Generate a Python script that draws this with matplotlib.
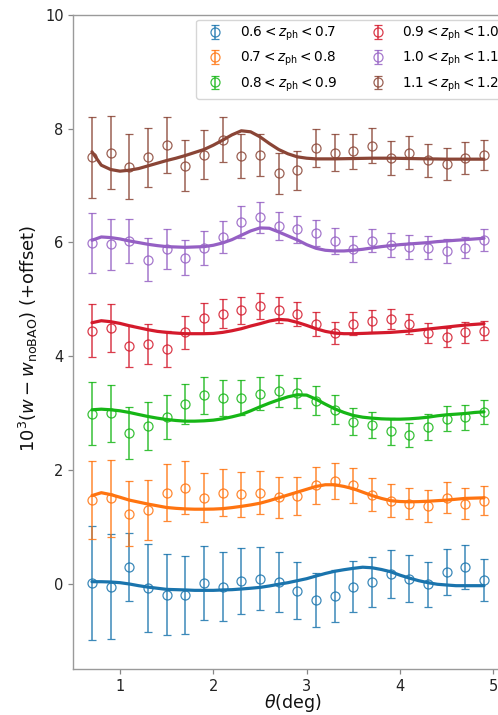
import matplotlib
matplotlib.use("Agg")
import matplotlib.pyplot as plt

# ---------------- data ----------------
theta = [0.7, 0.9, 1.1, 1.3, 1.5, 1.7, 1.9, 2.1, 2.3, 2.5, 2.7,
         2.9, 3.1, 3.3, 3.5, 3.7, 3.9, 4.1, 4.3, 4.5, 4.7, 4.9]

theta_model = [0.7, 0.8, 0.9, 1.0, 1.1, 1.2, 1.3, 1.4, 1.5, 1.6, 1.7, 1.8, 1.9,
               2.0, 2.1, 2.2, 2.3, 2.4, 2.5, 2.6, 2.7, 2.8, 2.9, 3.0, 3.1, 3.2,
               3.3, 3.4, 3.5, 3.6, 3.7, 3.8, 3.9, 4.0, 4.1, 4.2, 4.3, 4.4, 4.5,
               4.6, 4.7, 4.8, 4.9]

labels = [r'$0.6 < z_{\rm ph} < 0.7$', r'$0.7 < z_{\rm ph} < 0.8$',
          r'$0.8 < z_{\rm ph} < 0.9$', r'$0.9 < z_{\rm ph} < 1.0$',
          r'$1.0 < z_{\rm ph} < 1.1$', r'$1.1 < z_{\rm ph} < 1.2$']

# bin 0.6-0.7 (offset 0)
w_b0 = [0.01, -0.05, 0.30, -0.08, -0.19, -0.20, 0.02, -0.05, 0.05, 0.09, 0.03,
        -0.12, -0.29, -0.22, -0.05, 0.03, 0.17, 0.09, -0.01, 0.21, 0.29, 0.07]
e_b0 = [1.00, 0.93, 0.60, 0.77, 0.72, 0.69, 0.65, 0.61, 0.58, 0.55, 0.52,
        0.50, 0.48, 0.46, 0.45, 0.44, 0.43, 0.42, 0.40, 0.40, 0.39, 0.37]
m_b0 = [0.035, 0.035, 0.030, 0.018, -0.005, -0.035, -0.060, -0.080, -0.100, -0.105,
        -0.110, -0.117, -0.117, -0.117, -0.110, -0.105, -0.093, -0.080, -0.065, -0.040,
        -0.010, 0.018, 0.053, 0.088, 0.135, 0.180, 0.218, 0.246, 0.270, 0.290, 0.280,
        0.250, 0.210, 0.150, 0.099, 0.053, 0.018, -0.010, -0.023, -0.035, -0.035,
        -0.035, -0.035]

# bin 0.7-0.8 (offset 1.5)
w_b1 = [1.47, 1.50, 1.23, 1.29, 1.60, 1.69, 1.51, 1.60, 1.57, 1.60, 1.52,
        1.54, 1.73, 1.81, 1.73, 1.56, 1.46, 1.41, 1.37, 1.51, 1.41, 1.46]
e_b1 = [0.68, 0.68, 0.57, 0.53, 0.50, 0.46, 0.43, 0.41, 0.39, 0.38, 0.36,
        0.34, 0.33, 0.32, 0.31, 0.29, 0.29, 0.28, 0.28, 0.27, 0.27, 0.25]
m_b1 = [1.549, 1.600, 1.567, 1.520, 1.470, 1.435, 1.400, 1.370, 1.340, 1.325,
        1.315, 1.310, 1.310, 1.312, 1.320, 1.338, 1.360, 1.385, 1.415, 1.460,
        1.510, 1.560, 1.610, 1.660, 1.710, 1.740, 1.740, 1.710, 1.670, 1.610,
        1.550, 1.500, 1.460, 1.445, 1.440, 1.443, 1.450, 1.460, 1.470, 1.485,
        1.500, 1.505, 1.510]

# bin 0.8-0.9 (offset 3)
w_b2 = [2.99, 3.00, 2.65, 2.77, 2.93, 3.16, 3.31, 3.27, 3.27, 3.34, 3.39,
        3.35, 3.22, 3.06, 2.85, 2.79, 2.68, 2.62, 2.75, 2.90, 2.93, 3.02]
e_b2 = [0.55, 0.50, 0.45, 0.42, 0.38, 0.36, 0.33, 0.32, 0.31, 0.29, 0.28,
        0.26, 0.25, 0.25, 0.24, 0.23, 0.24, 0.21, 0.23, 0.22, 0.22, 0.21]
m_b2 = [3.058, 3.069, 3.058, 3.040, 3.011, 2.975, 2.940, 2.911, 2.887, 2.870,
        2.858, 2.858, 2.864, 2.876, 2.899, 2.934, 2.975, 3.040, 3.110, 3.175,
        3.234, 3.286, 3.322, 3.316, 3.245, 3.157, 3.075, 3.011, 2.958, 2.928,
        2.911, 2.899, 2.893, 2.893, 2.899, 2.911, 2.928, 2.952, 2.970, 2.981,
        2.993, 3.011, 3.022]

# bin 0.9-1.0 (offset 4.5)
w_b3 = [4.45, 4.50, 4.18, 4.21, 4.13, 4.42, 4.67, 4.75, 4.81, 4.88, 4.82,
        4.74, 4.57, 4.41, 4.57, 4.62, 4.65, 4.57, 4.41, 4.33, 4.42, 4.45]
e_b3 = [0.47, 0.42, 0.37, 0.35, 0.32, 0.29, 0.26, 0.26, 0.24, 0.23, 0.23,
        0.21, 0.21, 0.20, 0.20, 0.19, 0.18, 0.18, 0.18, 0.17, 0.18, 0.17]
m_b3 = [4.589, 4.624, 4.607, 4.577, 4.536, 4.501, 4.466, 4.437, 4.419, 4.407,
        4.396, 4.396, 4.396, 4.401, 4.419, 4.448, 4.484, 4.531, 4.572, 4.618,
        4.648, 4.636, 4.595, 4.542, 4.484, 4.437, 4.407, 4.396, 4.396, 4.401,
        4.407, 4.413, 4.419, 4.431, 4.442, 4.460, 4.478, 4.495, 4.513, 4.531,
        4.548, 4.560, 4.572]

# bin 1.0-1.1 (offset 6)
w_b4 = [5.99, 5.97, 6.03, 5.70, 5.89, 5.73, 5.91, 6.09, 6.36, 6.44, 6.29,
        6.23, 6.17, 6.03, 5.88, 6.03, 5.96, 5.92, 5.91, 5.85, 5.91, 6.04]
e_b4 = [0.52, 0.45, 0.39, 0.37, 0.35, 0.31, 0.30, 0.28, 0.28, 0.27, 0.25,
        0.24, 0.23, 0.23, 0.23, 0.20, 0.21, 0.21, 0.20, 0.21, 0.19, 0.19]
m_b4 = [6.039, 6.097, 6.086, 6.062, 6.027, 5.998, 5.968, 5.945, 5.927, 5.921,
        5.915, 5.921, 5.927, 5.951, 5.992, 6.050, 6.127, 6.203, 6.256, 6.250,
        6.185, 6.115, 6.045, 5.962, 5.898, 5.863, 5.851, 5.851, 5.863, 5.880,
        5.904, 5.927, 5.945, 5.962, 5.974, 5.986, 5.998, 6.015, 6.027, 6.039,
        6.050, 6.062, 6.074]

# bin 1.1-1.2 (offset 7.5)
w_b5 = [7.50, 7.58, 7.33, 7.50, 7.71, 7.35, 7.54, 7.81, 7.52, 7.54, 7.22,
        7.27, 7.66, 7.58, 7.60, 7.70, 7.49, 7.58, 7.45, 7.38, 7.48, 7.54]
e_b5 = [0.71, 0.64, 0.57, 0.52, 0.49, 0.45, 0.43, 0.40, 0.39, 0.37, 0.36,
        0.34, 0.33, 0.32, 0.31, 0.31, 0.30, 0.29, 0.29, 0.28, 0.28, 0.27]
m_b5 = [7.594, 7.359, 7.283, 7.254, 7.271, 7.300, 7.347, 7.394, 7.441, 7.482,
        7.529, 7.582, 7.635, 7.711, 7.799, 7.893, 7.964, 7.946, 7.858, 7.741,
        7.635, 7.559, 7.506, 7.482, 7.470, 7.470, 7.470, 7.473, 7.476, 7.479,
        7.482, 7.482, 7.482, 7.479, 7.476, 7.473, 7.470, 7.468, 7.465, 7.465,
        7.465, 7.465, 7.465]

data_w = [w_b0, w_b1, w_b2, w_b3, w_b4, w_b5]
data_e = [e_b0, e_b1, e_b2, e_b3, e_b4, e_b5]
data_m = [m_b0, m_b1, m_b2, m_b3, m_b4, m_b5]

colors = ['#1a74ad', '#ff7410', '#16b616', '#d41a2c', '#9560c4', '#8a4536']

x_ticks = [1, 2, 3, 4, 5]
y_ticks = [0, 2, 4, 6, 8, 10]

# ---------------- figure ----------------
W, H = 498, 715
fig = plt.figure(figsize=(W / 100, H / 100), dpi=100)
ax_l, ax_r, ax_t, ax_b = 73.3, 512.0, 15.0, 669.0
ax = fig.add_axes([ax_l / W, (H - ax_b) / H, (ax_r - ax_l) / W, (ax_b - ax_t) / H])

for k in range(6):
    c = colors[k]
    ax.plot(theta_model, data_m[k], color=c, lw=2.3, zorder=3,
            solid_capstyle='round')
    ax.errorbar(theta, data_w[k], yerr=data_e[k], fmt='o', color=c,
                mfc='none', mec=c, ms=6.5, mew=0.9, elinewidth=1.1,
                capsize=2.8, capthick=1.1, alpha=0.85, label=labels[k], zorder=2)

ax.set_xlim(0.5, 5.2)
ax.set_ylim(-1.5, 10)
ax.set_xticks(x_ticks)
ax.set_yticks(y_ticks)
ax.tick_params(labelsize=10.5, color='#888888', length=3.5, width=0.9,
               labelcolor='#222222')
for s in ax.spines.values():
    s.set_color('#9a9a9a')
    s.set_linewidth(1.0)

ax.set_xlabel(r'$\theta$(deg)', fontsize=12.5, color='#111111', labelpad=-1)
ax.set_ylabel(r'$10^3(w - w_{\rm noBAO})$ (+offset)', fontsize=13,
              color='#111111')
ax.yaxis.set_label_coords(-0.077, 0.505)

leg = ax.legend(loc='upper left', bbox_to_anchor=((196 - ax_l) / (ax_r - ax_l), 0.993),
                ncol=2, fontsize=9.8, frameon=True, borderaxespad=0)
leg.get_frame().set_edgecolor('#cccccc')

fig.savefig('out.png', dpi=100)
